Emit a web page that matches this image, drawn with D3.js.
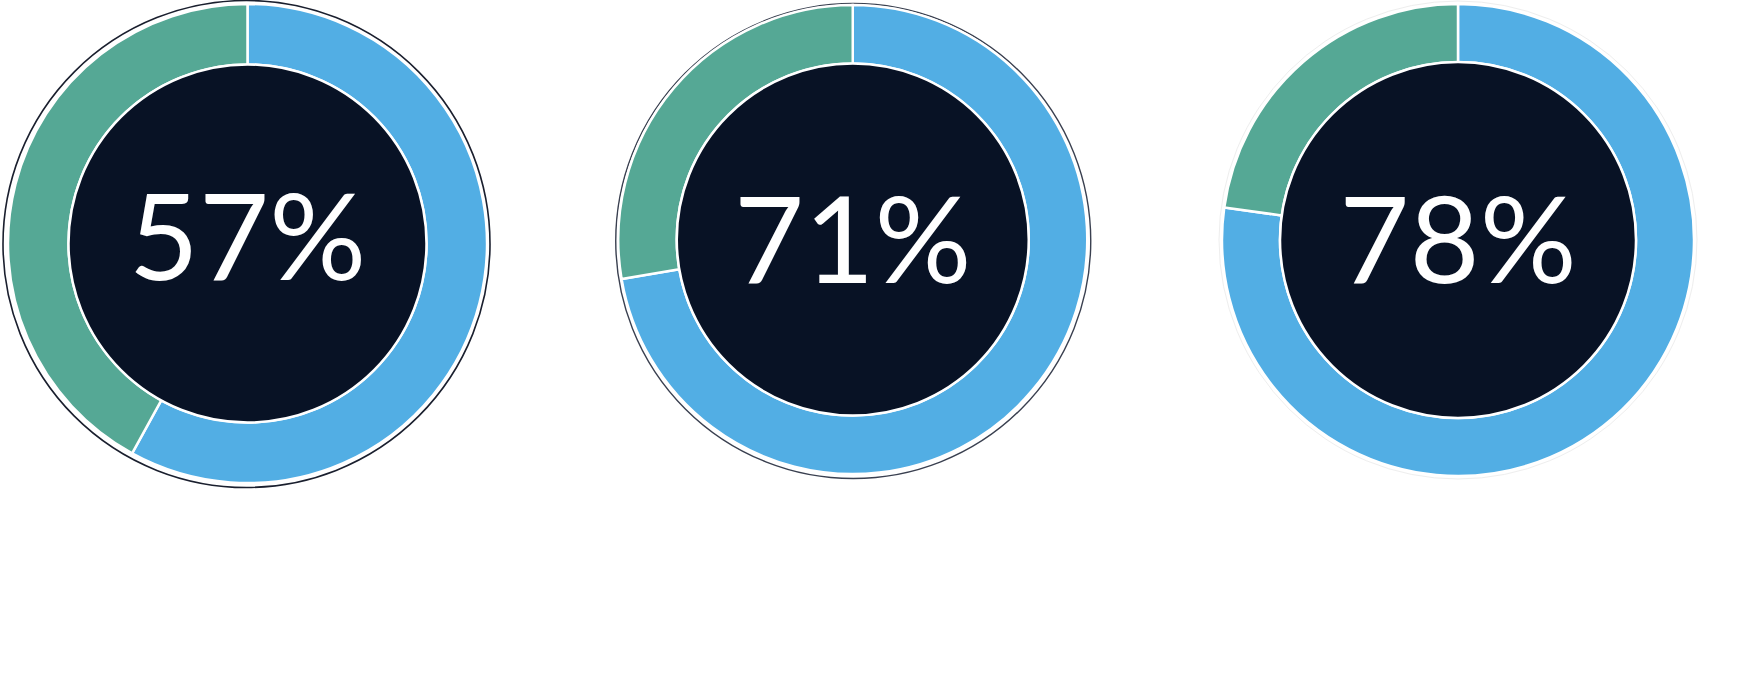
<!DOCTYPE html>
<html>
<head>
<meta charset="utf-8">
<script src="https://cdn.jsdelivr.net/npm/d3@7"></script>
<style>
  html, body { margin: 0; padding: 0; background: #ffffff; }
  svg { display: block; }
</style>
</head>
<body>
<svg id="chart" width="1749" height="684"></svg>
<script>
// ---- data (arc shares) ----
const categories = ["A", "B", "C"];
const shareValues = [58, 72.3, 77.2];          // blue share (%)
const remainderValues = [42, 27.7, 22.8];      // green share (%)
const centerLabels = ["57%", "71%", "78%"];

// ---- styles / layout ----
const W = 1749, H = 684;
const blue = "#52AEE4", green = "#55A895", navy = "#081225";
const outlineColors = ["#1a1f2e", "#3a4050", "#eeeeee"];
const outlineWidths = [1.6, 1.4, 1];
const centerYs = [243.5, 239.5, 240];
const outerRs = [239.5, 234.5, 236];
const innerRs = [179, 176, 178];
const outlineRs = [243.5, 237.5, 239];
const outlineOffsets = [[-1, 0.5], [0.5, 1.5], [0, 0]];

const svg = d3.select("#chart");
svg.append("rect").attr("width", W).attr("height", H).attr("fill", "#fff");

const x = d3.scalePoint().domain(categories).range([247.5, 1458]);
const pie = d3.pie().sort(null).value(d => d.v);

categories.forEach((c, i) => {
  const g = svg.append("g").attr("transform", `translate(${x(c)},${centerYs[i]})`);
  g.append("circle")
    .attr("cx", outlineOffsets[i][0]).attr("cy", outlineOffsets[i][1])
    .attr("r", outlineRs[i])
    .attr("fill", "none")
    .attr("stroke", outlineColors[i])
    .attr("stroke-width", outlineWidths[i]);
  const arc = d3.arc().innerRadius(innerRs[i]).outerRadius(outerRs[i]);
  const data = pie([{k: "share", v: shareValues[i]}, {k: "rest", v: remainderValues[i]}]);
  g.selectAll("path.seg").data(data).join("path")
    .attr("class", "seg")
    .attr("d", arc)
    .attr("fill", d => d.data.k === "share" ? blue : green)
    .attr("stroke", "#fff")
    .attr("stroke-width", 2.5)
    .attr("stroke-linejoin", "miter");
  g.append("circle")
    .attr("r", innerRs[i])
    .attr("fill", navy)
    .attr("stroke", "#fff")
    .attr("stroke-width", 2.5);
  g.append("text")
    .attr("text-anchor", "middle")
    .attr("y", 283 - centerYs[i] - (i === 0 ? 3 : 0))
    .attr("fill", "#fff")
    .attr("font-family", "Lato, 'Open Sans', sans-serif")
    .attr("font-size", 121)
    .text(centerLabels[i]);
});
</script>
</body>
</html>
